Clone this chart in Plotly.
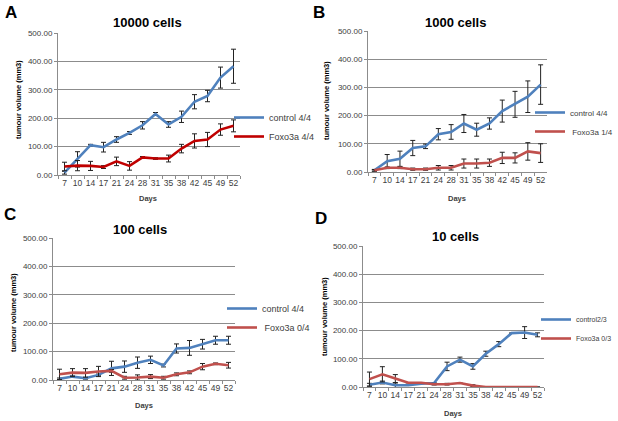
import plotly.graph_objects as go

DAYS = ["7", "10", "14", "17", "21", "24", "28", "31", "35", "38", "42", "45", "49", "52"]

# panel A - 10000 cells
A_CTRL = [8, 55, 105, 98, 125, 148, 175, 215, 178, 205, 258, 278, 343, 383]
A_CTRL_ERR = [5, 27, 3, 17, 10, 5, 13, 5, 10, 20, 25, 20, 37, 60]
A_FOXO = [30, 33, 32, 28, 48, 32, 62, 58, 58, 93, 120, 125, 160, 173]
A_FOXO_ERR = [15, 18, 16, 5, 15, 15, 3, 3, 12, 15, 25, 25, 20, 21]

# panel B - 1000 cells
B_CTRL = [6, 38, 47, 85, 91, 134, 142, 172, 150, 172, 216, 240, 267, 310]
B_CTRL_ERR = [3, 24, 27, 27, 8, 20, 26, 32, 23, 20, 39, 46, 56, 70]
B_FOXO = [6, 15, 15, 10, 10, 15, 15, 30, 30, 33, 50, 50, 73, 67]
B_FOXO_ERR = [3, 3, 3, 4, 4, 8, 8, 16, 16, 13, 20, 18, 31, 33]

# panel C - 100 cells
C_CTRL = [4, 12, 6, 18, 41, 47, 61, 71, 51, 111, 113, 126, 140, 140]
C_CTRL_ERR = [3, 3, 3, 3, 25, 20, 20, 13, 5, 16, 26, 17, 14, 14]
C_FOXO = [20, 26, 25, 30, 32, 8, 9, 12, 8, 20, 27, 47, 57, 52]
C_FOXO_ERR = [18, 14, 15, 18, 5, 5, 9, 7, 5, 5, 5, 11, 3, 10]

# panel D - 10 cells
D_CTRL = [8, 16, 6, 6, 12, 14, 73, 97, 73, 118, 152, 191, 193, 185]
D_CTRL_ERR = [5, 5, 8, 0, 0, 0, 15, 9, 10, 9, 9, 0, 21, 7]
D_FOXO = [28, 45, 30, 15, 15, 10, 10, 14, 5, 0, 0, 0, 0, 0]
D_FOXO_ERR = [25, 27, 14, 0, 0, 3, 3, 0, 3, 0, 0, 0, 0, 0]

BLUE = "#4F81BD"
RED_DARK = "#C00000"
RED = "#C0504D"
GRID = "#8C8C8C"
TXT = "#404040"
FONT = "Liberation Sans"

W, H = 618, 421


def px_x(v):
    return v / W


def px_y(v):
    return 1 - v / H


# plot box (l, r, t, b) and text positions are in px of the 618x421 canvas
PANELS = [
    dict(title="10000 cells", ctrl=A_CTRL, ctrl_err=A_CTRL_ERR, foxo=A_FOXO, foxo_err=A_FOXO_ERR,
         red=RED_DARK, names=("control 4/4", "Foxo3a 4/4"), box=(58, 240, 33, 175),
         tpos=(147, 23), letter="A", lpos=(11, 13), ypos=(18, 100), dpos=(148, 198),
         leg=(229, 127), legsize=9),
    dict(title="1000 cells", ctrl=B_CTRL, ctrl_err=B_CTRL_ERR, foxo=B_FOXO, foxo_err=B_FOXO_ERR,
         red=RED, names=("control 4/4", " Foxo3a 1/4"), box=(368, 547, 31, 172),
         tpos=(455, 23), letter="B", lpos=(319, 13), ypos=(326, 100), dpos=(457, 198),
         leg=(530, 122), legsize=8),
    dict(title="100 cells", ctrl=C_CTRL, ctrl_err=C_CTRL_ERR, foxo=C_FOXO, foxo_err=C_FOXO_ERR,
         red=RED, names=("control 4/4", " Foxo3a 0/4"), box=(53, 235, 238, 380),
         tpos=(140, 229), letter="C", lpos=(10, 214), ypos=(13, 313), dpos=(144, 405),
         leg=(222, 318), legsize=9),
    dict(title="10 cells", ctrl=D_CTRL, ctrl_err=D_CTRL_ERR, foxo=D_FOXO, foxo_err=D_FOXO_ERR,
         red=RED, names=("control2/3", "Foxo3a 0/3"), box=(363, 544, 246, 387),
         tpos=(455, 236), letter="D", lpos=(321, 219), ypos=(324, 317), dpos=(453, 413),
         leg=(536, 329), legsize=7),
]

fig = go.Figure()
layout = dict(
    width=W, height=H, autosize=False,
    margin=dict(l=0, r=0, t=0, b=0, autoexpand=False),
    paper_bgcolor="white", plot_bgcolor="white",
    font=dict(family=FONT, color=TXT, size=8),
    annotations=[],
)


def note(text, pos, size, color="black", angle=0):
    return dict(text=text, x=px_x(pos[0]), y=px_y(pos[1]), xref="paper", yref="paper",
                xanchor="center", yanchor="middle", showarrow=False, textangle=angle,
                font=dict(size=size, color=color))


for i, p in enumerate(PANELS, start=1):
    sfx = "" if i == 1 else str(i)
    leg = "legend" if i == 1 else f"legend{i}"
    l, r, t, b = p["box"]

    for y, err, color, name in [
        (p["ctrl"], p["ctrl_err"], BLUE, p["names"][0]),
        (p["foxo"], p["foxo_err"], p["red"], p["names"][1]),
    ]:
        fig.add_trace(go.Scatter(
            x=DAYS, y=y, name=name, mode="lines",
            line=dict(color=color, width=2.6),
            error_y=dict(type="data", array=err, color="#222222", thickness=1, width=2.5),
            xaxis="x" + sfx, yaxis="y" + sfx, legend=leg,
        ))

    layout["xaxis" + sfx] = dict(
        domain=[px_x(l), px_x(r)], anchor="y" + sfx, type="category",
        categoryorder="array", categoryarray=DAYS, range=[-0.5, 13.5],
        showgrid=False, showline=True, linecolor=GRID, linewidth=1,
        ticks="outside", tickson="boundaries", ticklen=3, tickcolor=GRID,
        tickangle=0, tickfont=dict(size=8.5, color=TXT), fixedrange=True,
    )
    layout["yaxis" + sfx] = dict(
        domain=[px_y(b), px_y(t)], anchor="x" + sfx, range=[0, 500],
        tickvals=[0, 100, 200, 300, 400, 500], tickformat=".2f",
        showgrid=True, gridcolor=GRID, gridwidth=1, zeroline=False,
        showline=True, linecolor=GRID, linewidth=1,
        ticks="outside", ticklen=3, tickcolor=GRID,
        tickfont=dict(size=8, color=TXT), fixedrange=True,
    )
    layout[leg] = dict(
        x=px_x(p["leg"][0]), y=px_y(p["leg"][1]), xanchor="left", yanchor="middle",
        bgcolor="rgba(0,0,0,0)", font=dict(size=p["legsize"], color=TXT), itemwidth=30,
    )

    layout["annotations"] += [
        note(f"<b>{p['title']}</b>", p["tpos"], 13),
        note(f"<b>{p['letter']}</b>", p["lpos"], 17),
        note("<b>tumour volume (mm3)</b>", p["ypos"], 7.5, angle=-90),
        note("<b>Days</b>", p["dpos"], 7.5, color=TXT),
    ]

fig.update_layout(**layout)
fig.write_html("out.html", config={"displayModeBar": False},
               post_script="document.body.style.margin='0';")
